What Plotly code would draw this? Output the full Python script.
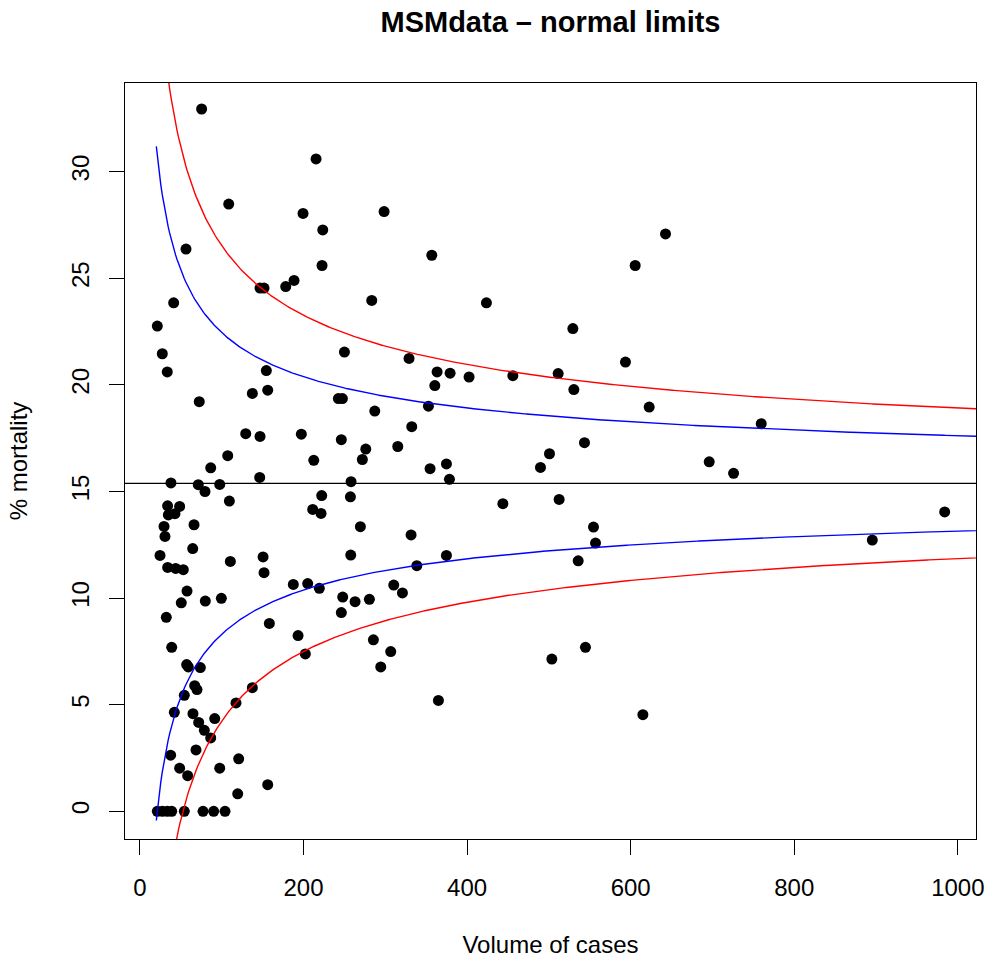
import numpy as np
import plotly.graph_objects as go

# ---- data ----
volume = [75.4, 215.3, 108.5, 199.4, 298.5, 223.5, 56.3, 222.6, 146.8, 151.7,
          178.2, 188.4, 41.2, 283.4, 21.2, 356.8, 423.6, 529.3, 605.5, 642.6,
          27.3, 33.4, 72.5, 154.5, 137.4, 156.2, 250.0, 329.0, 242.6, 247.5,
          287.1, 332.3, 129.3, 146.8, 197.3, 246.2, 276.1, 271.9, 315.2, 212.5,
          107.3, 86.5, 146.4, 37.9, 71.3, 79.5, 97.5, 258.1, 109.3, 222.2,
          257.3, 33.8, 48.5, 34.7, 42.8, 211.2, 221.4, 66.1, 29.4, 30.6,
          269.5, 331.5, 64.5, 24.5, 257.7, 110.5, 150.5, 151.7, 33.9, 43.7,
          53.0, 338.5,
          187.5, 205.1, 219.3, 310.3, 320.9, 57.5, 50.5, 79.9, 99.5, 32.2,
          247.9, 246.2, 263.0, 280.5, 158.2, 193.3, 202.2, 285.4, 306.6, 294.4,
          38.8, 57.1, 59.1, 73.8, 66.9, 69.7, 54.2, 137.4, 117.4, 42.0,
          64.8, 71.8, 91.4, 78.7, 86.5, 37.5, 68.5, 48.5, 58.3, 97.5,
          120.7, 119.5, 156.2,
          21.2, 27.3, 33.4, 38.8, 54.2, 77.1, 90.1, 104.0,
          363.3, 379.2, 402.4, 455.9, 511.3, 593.6, 360.5, 530.5, 352.7, 622.6,
          543.5, 500.7, 489.7, 354.7, 374.7, 378.4, 443.7, 512.5, 374.7, 554.5,
          557.0, 535.8,
          364.9, 503.6, 544.7, 614.9,
          759.6, 696.0, 725.8, 895.4, 983.9]

mortality = [32.94, 30.6, 28.48, 28.04, 28.13, 27.27, 26.37, 25.6, 24.54, 24.54,
             24.61, 24.9, 23.85, 23.96, 22.76, 26.08, 23.85, 22.64, 25.6, 27.08,
             21.46, 20.61, 19.21, 20.67, 19.6, 19.75, 21.54, 21.24, 19.36, 19.36,
             18.77, 18.04, 17.71, 17.58, 17.69, 17.43, 16.99, 16.5, 17.11, 16.46,
             16.68, 16.11, 15.66, 15.4, 15.32, 15.0, 15.33, 15.46, 14.55, 14.81,
             14.75, 14.33, 14.3, 13.9, 13.96, 14.16, 13.97, 13.44, 13.36, 12.89,
             13.35, 12.96, 12.32, 12.0, 12.02, 11.72, 11.93, 11.19, 11.44, 11.39,
             11.33, 11.52,
             10.64, 10.68, 10.46, 10.61, 10.24, 10.33, 9.78, 9.86, 9.99, 9.1,
             10.05, 9.32, 9.83, 9.94, 8.81, 8.24, 7.38, 8.04, 7.49, 6.77,
             7.69, 6.88, 6.77, 6.74, 5.89, 5.71, 5.44, 5.8, 5.08, 4.64,
             4.58, 4.17, 4.35, 3.8, 3.44, 2.63, 2.88, 2.02, 1.67, 2.02,
             2.46, 0.82, 1.25,
             0, 0, 0, 0, 0, 0, 0, 0,
             20.61, 20.55, 20.37, 20.43, 20.53, 21.07, 19.97, 19.78, 19.0, 18.96,
             17.29, 16.77, 16.13, 16.07, 16.29, 15.57, 14.43, 14.63, 12.0, 13.33,
             12.58, 11.75,
             5.2, 7.14, 7.69, 4.53,
             18.18, 16.39, 15.85, 12.72, 14.04]

overall_pct = 15.38          # overall mortality (%)
z_inner = 1.96               # 95% limits (blue)
z_outer = 3.09               # 99.8% limits (red)
x_ticks = [0, 200, 400, 600, 800, 1000]
y_ticks = [0, 5, 10, 15, 20, 25, 30]

# ---- funnel limits ----
p = overall_pct / 100.0
n = np.linspace(20, 1100, 600)
se = np.sqrt(p * (1 - p) / n) * 100

FONT = "Liberation Sans, Arial, Helvetica, sans-serif"

fig = go.Figure()
fig.add_trace(go.Scatter(x=volume, y=mortality, mode="markers",
                         marker=dict(color="black", size=11, line=dict(width=0)),
                         showlegend=False, hoverinfo="x+y"))
for z, col in [(z_outer, "#FF0000"), (z_inner, "#0000FF")]:
    fig.add_trace(go.Scatter(x=n, y=overall_pct + z * se, mode="lines",
                             line=dict(color=col, width=1.4), showlegend=False))
    fig.add_trace(go.Scatter(x=n, y=overall_pct - z * se, mode="lines",
                             line=dict(color=col, width=1.4), showlegend=False))

fig.add_shape(type="line", xref="paper", x0=0, x1=1, yref="y",
              y0=overall_pct, y1=overall_pct, line=dict(color="black", width=1.3))

axis_common = dict(showgrid=False, zeroline=False, showline=True, mirror=True,
                   linecolor="black", linewidth=1.3, ticks="outside", ticklen=15,
                   tickwidth=1.3, tickcolor="black", automargin=False,
                   tickfont=dict(family=FONT, size=24, color="black"))

fig.update_layout(
    width=990, height=959,
    margin=dict(l=125, r=14, t=83, b=120),
    paper_bgcolor="white", plot_bgcolor="white",
    font=dict(family=FONT, color="black"),
    title=dict(text="<b>MSMdata \u2013 normal limits</b>", xref="paper", x=0.5,
               xanchor="center", yref="container", y=1 - 22 / 959, yanchor="middle",
               font=dict(family=FONT, size=29, color="black")),
    xaxis=dict(range=[-18.3, 1022.2], tickvals=x_ticks, ticklabelstandoff=12,
               title=dict(text="Volume of cases", font=dict(family=FONT, size=24),
                          standoff=36),
               **axis_common),
    yaxis=dict(range=[-1.30, 34.16], tickvals=y_ticks, tickangle=-90,
               ticklabelstandoff=10,
               title=dict(text="% mortality", font=dict(family=FONT, size=24),
                          standoff=32),
               **axis_common),
)

fig.write_html("out.html")
